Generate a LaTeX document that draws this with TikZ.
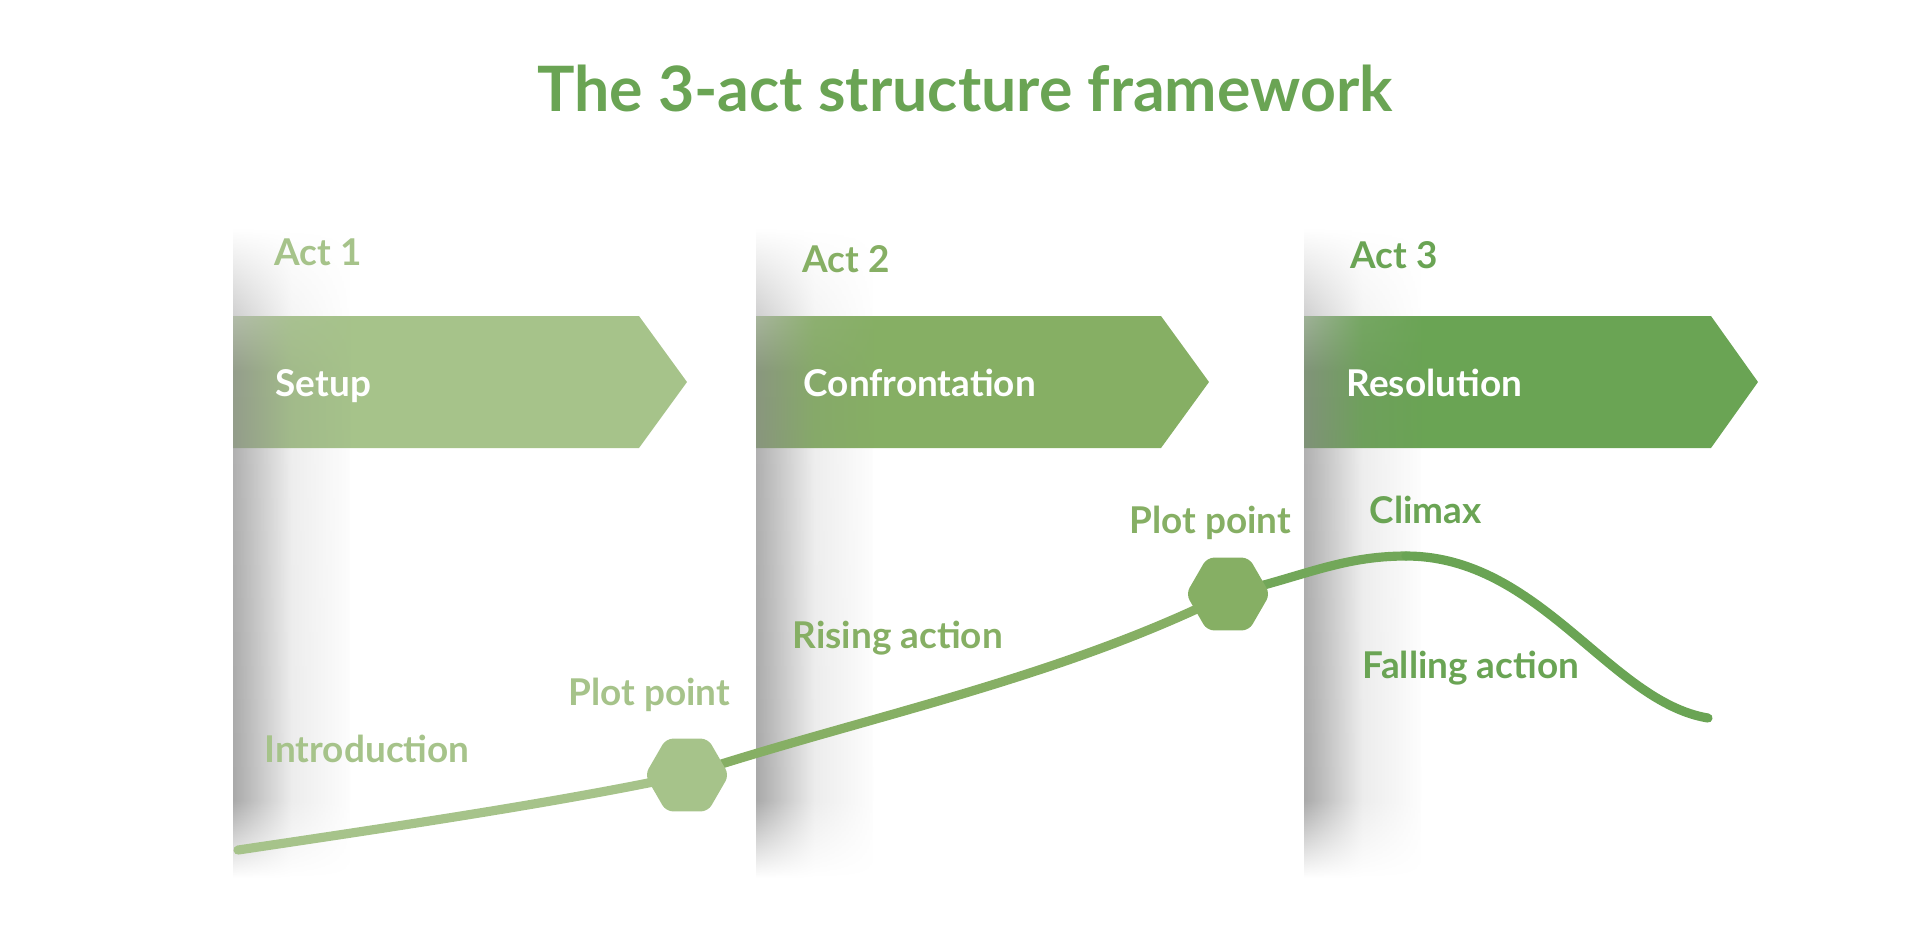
\documentclass[tikz,border=0pt]{standalone}
\usepackage{fontspec}
\setmainfont{Lato}
\usepackage{tikz}
\usetikzlibrary{shapes.geometric, fadings}

\definecolor{lightgreen}{HTML}{A6C38A}
\definecolor{midgreen}{HTML}{86AF64}
\definecolor{darkgreen}{HTML}{6AA454}

% soft shadow along the left edge of each act panel
\pgfdeclareverticalshading{panelshadow}{100bp}{color(0bp)=(white); color(25bp)=(white); color(31bp)=(black!50); color(64bp)=(black!45); color(75bp)=(white); color(100bp)=(white)}
\begin{tikzfadingfrompicture}[name=shadowfade]
\shade[left color=transparent!25, right color=transparent!100, middle color=transparent!85] (0,0) rectangle (2,2);
\end{tikzfadingfrompicture}

\tikzset{
    labeltext/.style={anchor=base west, inner sep=0pt, font=\fontsize{10.5}{12}\selectfont\bfseries},
    bannertext/.style={labeltext, text=white},
    plotpt/.style={regular polygon, regular polygon sides=6, minimum size=0.84cm, inner sep=0pt, rounded corners=0.07cm},
    curve/.style={line width=2.6pt}
}

\begin{document}
\begin{tikzpicture}[x=0.01cm, y=-0.01cm, line cap=round, line join=round]

\useasboundingbox (0,0) rectangle (1920,950);

\node[font=\fontsize{17.8}{20}\selectfont\bfseries, text=darkgreen, anchor=base, inner sep=0pt] (title) at (965,111) {The 3-act structure framework};

% banners
\fill[lightgreen] (233,316) -- (639,316) -- (687,382) -- (639,448) -- (233,448) -- cycle;
\fill[midgreen] (756,316) -- (1161,316) -- (1209,382) -- (1161,448) -- (756,448) -- cycle;
\fill[darkgreen] (1304,316) -- (1711,316) -- (1758,382) -- (1711,448) -- (1304,448) -- cycle;

% panel shadows
\shade[shading=panelshadow, path fading=shadowfade, fit fading=true] (233,228) rectangle (350,878);
\shade[shading=panelshadow, path fading=shadowfade, fit fading=true] (756,228) rectangle (873,878);
\shade[shading=panelshadow, path fading=shadowfade, fit fading=true] (1304,228) rectangle (1421,878);

\node[labeltext, text=lightgreen] (act1) at (274,265) {Act 1};
\node[labeltext, text=midgreen] (act2) at (802,272) {Act 2};
\node[labeltext, text=darkgreen] (act3) at (1350,268) {Act 3};

\node[bannertext] (setup) at (275,396) {Setup};
\node[bannertext] (confront) at (803,396) {Confrontation};
\node[bannertext] (resolve) at (1346,396) {Resolution};

\node[labeltext, text=lightgreen] (intro) at (264,762) {Introduction};
\node[labeltext, text=lightgreen] (pplabel1) at (568,705) {Plot point};
\node[labeltext, text=midgreen] (rising) at (792,648) {Rising action};
\node[labeltext, text=midgreen] (pplabel2) at (1129,533) {Plot point};
\node[labeltext, text=darkgreen] (climax) at (1369,523) {Climax};
\node[labeltext, text=darkgreen] (falling) at (1362,678) {Falling action};

% story curve
\coordinate (start) at (238,850);
\coordinate (pp1c) at (687,775);
\coordinate (pp2c) at (1228,594);
\coordinate (peak) at (1406,556);
\coordinate (finish) at (1708,718);

\draw[curve, lightgreen] (start) .. controls (420,823) and (570,800) .. (pp1c);
\draw[curve, midgreen] (pp1c) .. controls (857,719) and (1058,679) .. (pp2c);
\draw[curve, darkgreen!70!midgreen] (pp2c) .. controls (1300,578) and (1340,556) .. (peak);
\draw[curve, darkgreen] (peak) .. controls (1540,556) and (1610,702) .. (finish);

\node[plotpt, fill=lightgreen] (pp1) at (pp1c) {};
\node[plotpt, fill=midgreen] (pp2) at (pp2c) {};

\end{tikzpicture}
\end{document}
